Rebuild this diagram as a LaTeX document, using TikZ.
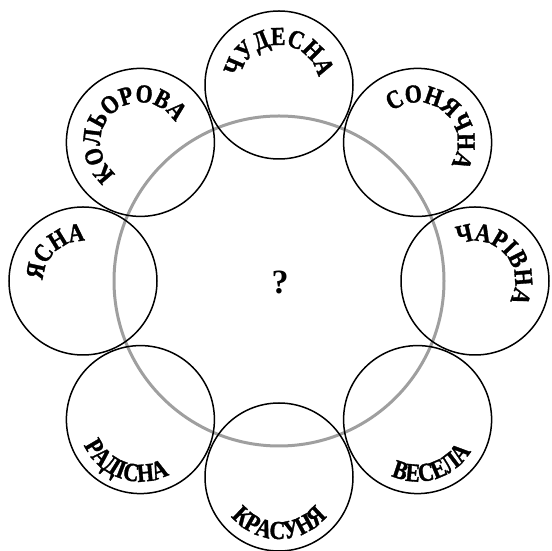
\documentclass[tikz,border=0pt]{standalone}
\usepackage{fontspec}
\setmainfont{Liberation Serif}
\newfontfamily\petalfam[FakeStretch=0.84,FakeBold=1.2]{Liberation Serif}
\usetikzlibrary{decorations.text,calc}
\newcommand\petalfont{\petalfam\bfseries\fontsize{26}{26}\selectfont}
% text on the upper part of a petal (letters point outward)
\newcommand\toptext[3]{%
  \path[decorate,decoration={text along path,text align=center,
      text={|\petalfont|#3}}]
    ([shift={(#2+150:40)}]#1.center) arc[start angle=#2+150,end angle=#2-150,radius=40];}
% text on the lower part of a petal (letters point inward)
\newcommand\bottext[3]{%
  \path[decorate,decoration={text along path,text align=center,
      text={|\petalfont|#3}}]
    ([shift={(#2-150:62)}]#1.center) arc[start angle=#2-150,end angle=#2+150,radius=62];}
\begin{document}
\begin{tikzpicture}[x=1pt,y=1pt,
  petal/.style={circle,draw=black,line width=1.5pt,minimum size=148pt,inner sep=0pt},
  ring/.style={circle,draw=gray!75,line width=3pt,minimum size=330pt,inner sep=0pt}]
\useasboundingbox (0,0) rectangle (552,551);
\coordinate (O) at (279,270);
\node[ring] (big) at (O) {};
\node[petal] (pN)  at ($(O)+(90:196)$) {};
\node[petal] (pNE) at ($(O)+(45:196)$) {};
\node[petal] (pE)  at ($(O)+(0:196)$) {};
\node[petal] (pSE) at ($(O)+(-45:196)$) {};
\node[petal] (pS)  at ($(O)+(-90:196)$) {};
\node[petal] (pSW) at ($(O)+(-135:196)$) {};
\node[petal] (pW)  at ($(O)+(180:196)$) {};
\node[petal] (pNW) at ($(O)+(135:196)$) {};
\node[font=\bfseries\fontsize{34}{34}\selectfont] (q) at (280,269) {?};
\toptext{pN}{90}{ЧУДЕСНА}
\toptext{pNE}{48}{СОНЯЧНА}
\toptext{pE}{42}{ЧАРІВНА}
\toptext{pW}{133}{ЯСНА}
\toptext{pNW}{131}{КОЛЬОРОВА}
\bottext{pSW}{251}{РАДІСНА}
\bottext{pS}{270}{КРАСУНЯ}
\bottext{pSE}{287}{ВЕСЕЛА}
\end{tikzpicture}
\end{document}
